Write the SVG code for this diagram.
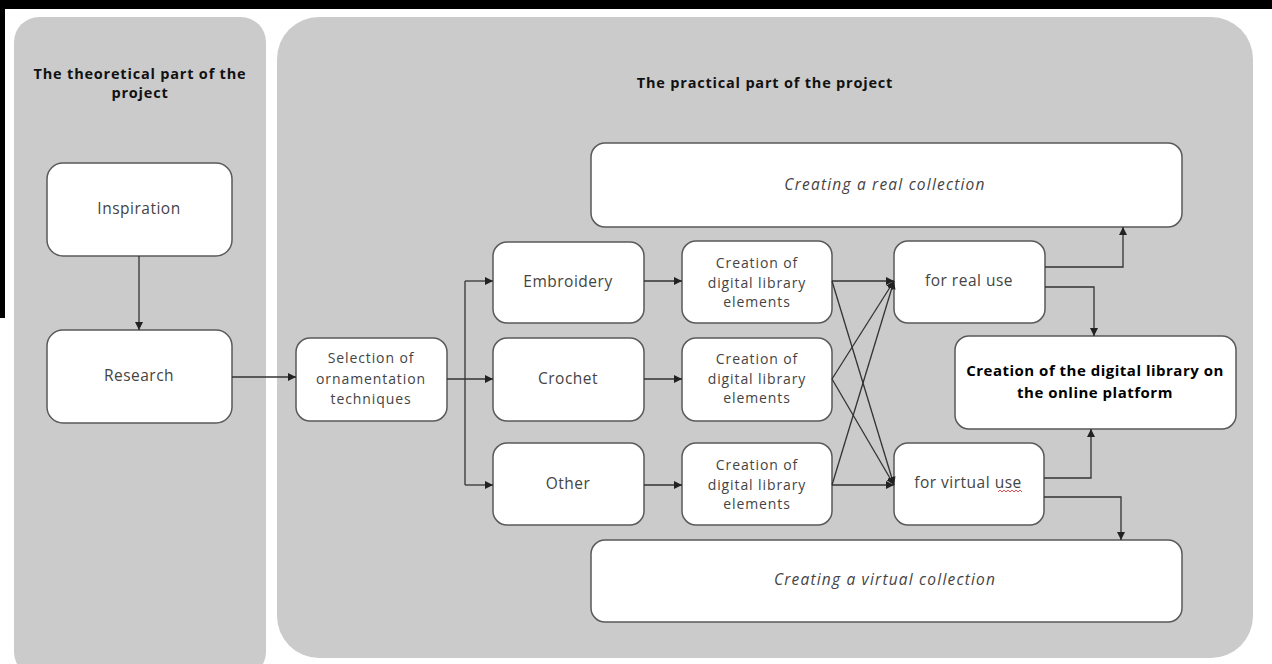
<svg xmlns="http://www.w3.org/2000/svg" width="1272" height="664" viewBox="0 0 1272 664">
<defs>
<marker id="arr" viewBox="0 0 10 10" refX="10" refY="5" markerWidth="8" markerHeight="8" markerUnits="userSpaceOnUse" orient="auto">
<path d="M0,0 L10,5 L0,10 z" fill="#222"/>
</marker>
<style>
.panel{fill:#cbcbcb}
.box{fill:#fff;stroke:#5a5a5a;stroke-width:1.5}
.t{font-family:"Open Sans","Liberation Sans",sans-serif;font-size:15.5px;letter-spacing:0.5px;fill:#444;text-anchor:middle}
.m{font-size:14px;letter-spacing:0.9px}
.it{font-style:italic;letter-spacing:1.2px}
.h{font-family:"Open Sans","Liberation Sans",sans-serif;font-size:14.5px;letter-spacing:0.8px;font-weight:bold;fill:#111;text-anchor:middle}
.b{font-family:"Open Sans","Liberation Sans",sans-serif;font-size:15px;letter-spacing:0.5px;font-weight:bold;fill:#000;text-anchor:middle}
.c{fill:none;stroke:#333;stroke-width:1.3;marker-end:url(#arr)}
</style>
</defs>
<rect x="0" y="0" width="1272" height="664" fill="#fff"/>
<rect x="0" y="0" width="1272" height="9" fill="#000"/>
<rect x="0" y="0" width="5" height="318" fill="#000"/>
<g id="panel-theory">
<rect class="panel" x="14" y="17" width="252" height="660" rx="25"/>
<text class="h" x="140" y="79">The theoretical part of the</text>
<text class="h" x="140" y="98">project</text>
</g>
<g id="panel-practice">
<rect class="panel" x="277" y="17" width="976" height="641" rx="42"/>
<text class="h" x="765" y="88">The practical part of the project</text>
</g>
<g id="inspiration"><rect class="box" x="47" y="163" width="185" height="93" rx="16"/><text class="t" x="139" y="214">Inspiration</text></g>
<g id="research"><rect class="box" x="47" y="330" width="185" height="93" rx="16"/><text class="t" x="139" y="381">Research</text></g>
<g id="selection"><rect class="box" x="296" y="338" width="151" height="83" rx="14"/><text class="t m" x="371" y="363">Selection of</text><text class="t m" x="371" y="384">ornamentation</text><text class="t m" x="371" y="404">techniques</text></g>
<g id="embroidery"><rect class="box" x="493" y="242" width="151" height="81" rx="14"/><text class="t" x="568" y="287">Embroidery</text></g>
<g id="crochet"><rect class="box" x="493" y="338" width="151" height="83" rx="14"/><text class="t" x="568" y="384">Crochet</text></g>
<g id="other"><rect class="box" x="493" y="443" width="151" height="82" rx="14"/><text class="t" x="568" y="489">Other</text></g>
<g id="creation1"><rect class="box" x="682" y="241" width="150" height="82" rx="14"/><text class="t m" x="757" y="268">Creation of</text><text class="t m" x="757" y="287.5">digital library</text><text class="t m" x="757" y="307">elements</text></g>
<g id="creation2"><rect class="box" x="682" y="338" width="150" height="83" rx="14"/><text class="t m" x="757" y="364">Creation of</text><text class="t m" x="757" y="383.5">digital library</text><text class="t m" x="757" y="403">elements</text></g>
<g id="creation3"><rect class="box" x="682" y="443" width="150" height="82" rx="14"/><text class="t m" x="757" y="470">Creation of</text><text class="t m" x="757" y="489.5">digital library</text><text class="t m" x="757" y="509">elements</text></g>
<g id="real-use"><rect class="box" x="894" y="241" width="151" height="82" rx="14"/><text class="t" x="969" y="286">for real use</text></g>
<g id="virtual-use"><rect class="box" x="894" y="443" width="150" height="82" rx="14"/><text class="t" x="968" y="488">for virtual use</text><path d="M998,492 l2,-2 l2,2 l2,-2 l2,2 l2,-2 l2,2 l2,-2 l2,2 l2,-2 l2,2 l2,-2 l2,2" fill="none" stroke="#e05050" stroke-width="1"/></g>
<g id="real-collection"><rect class="box" x="591" y="143" width="591" height="84" rx="14"/><text class="t it" x="885" y="190">Creating a real collection</text></g>
<g id="virtual-collection"><rect class="box" x="591" y="540" width="591" height="82" rx="14"/><text class="t it" x="885" y="585">Creating a virtual collection</text></g>
<g id="digital-library"><rect class="box" x="955" y="336" width="281" height="93" rx="14"/><text class="b" x="1095" y="376">Creation of the digital library on</text><text class="b" x="1095" y="398">the online platform</text></g>
<g id="connectors">
<path class="c" d="M139,256 V330"/>
<path class="c" d="M232,377 H296"/>
<path d="M465,281 V485" fill="none" stroke="#333" stroke-width="1.3"/>
<path class="c" d="M447,379 H493"/>
<path class="c" d="M465,281 H493"/>
<path class="c" d="M465,485 H493"/>
<path class="c" d="M644,281 H682"/>
<path class="c" d="M644,379 H682"/>
<path class="c" d="M644,485 H682"/>
<path class="c" d="M832,281 L894,281"/>
<path class="c" d="M832,379 L894,281"/>
<path class="c" d="M832,485 L894,281"/>
<path class="c" d="M832,281 L894,485"/>
<path class="c" d="M832,379 L894,485"/>
<path class="c" d="M832,485 L894,485"/>
<path class="c" d="M1045,267 H1123 V227"/>
<path class="c" d="M1045,287 H1094 V336"/>
<path class="c" d="M1044,478 H1091 V429"/>
<path class="c" d="M1044,497 H1121 V540"/>
</g>
</svg>
